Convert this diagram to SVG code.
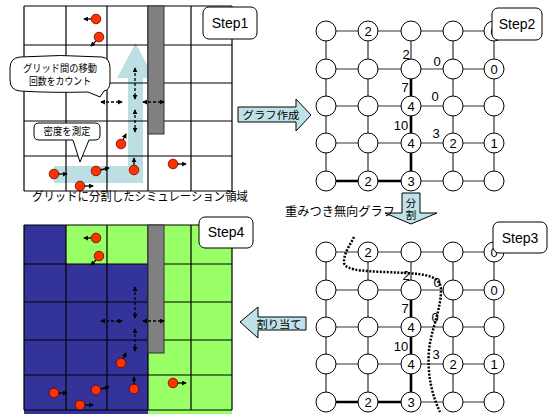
<svg xmlns="http://www.w3.org/2000/svg" width="548" height="414" viewBox="0 0 548 414">
<defs>
<marker id="ah" viewBox="0 0 6 6" refX="5" refY="3" markerWidth="5" markerHeight="5" markerUnits="userSpaceOnUse" orient="auto-start-reverse"><path d="M0,0 L6,3 L0,6 Z" fill="#000"/></marker>
<style>
.grid{stroke:#000;stroke-width:1.2;fill:none}
.bar{fill:#808080;stroke:#333;stroke-width:1}
.dot{fill:#ff3300;stroke:#660000;stroke-width:0.8}
.mv{stroke:#000;stroke-width:1.3;fill:none;marker-end:url(#ah)}
.dash{stroke:#000;stroke-width:1.3;stroke-dasharray:3,2;fill:none;marker-start:url(#ah);marker-end:url(#ah)}
.lbl{fill:#fff;stroke:#000;stroke-width:1}
.st{font-family:"Liberation Sans",Arial,sans-serif;font-size:14px;fill:#000;text-anchor:middle}
.jp{font-family:"Liberation Sans","Noto Sans CJK JP",sans-serif;font-size:10.5px;fill:#000;text-anchor:middle}
.jp2{font-family:"Liberation Sans","Noto Sans CJK JP",sans-serif;font-size:12px;fill:#000;text-anchor:middle}
.edge{stroke:#333;stroke-width:1.2}
.thick{stroke:#000;stroke-width:2.6}
.node{fill:#fff;stroke:#000;stroke-width:1}
.num{font-family:"Liberation Sans",Arial,sans-serif;font-size:13px;fill:#000;text-anchor:middle}
.big{fill:#bfe2e8;stroke:#000;stroke-width:1}
</style>
<g id="dots">
<path class="mv" d="M91,19 L84,19"/><circle class="dot" cx="96" cy="19" r="4.8"/>
<path class="mv" d="M96,41 L91,46"/><circle class="dot" cx="99" cy="37" r="4.8"/>
<path class="mv" d="M123,140 L126,134"/><circle class="dot" cx="121" cy="144" r="4.8"/>
<path class="mv" d="M177,164 L186,164"/><circle class="dot" cx="173" cy="164" r="4.8"/>
<path class="mv" d="M134,165 L134,158"/><circle class="dot" cx="134" cy="170" r="4.8"/>
<path class="mv" d="M100,170 L109,168"/><circle class="dot" cx="96" cy="171" r="4.8"/>
<path class="mv" d="M58,174 L67,174"/><circle class="dot" cx="54" cy="174" r="4.8"/>
<path class="mv" d="M84,186 L93,186"/><circle class="dot" cx="80" cy="186" r="4.8"/>
</g>
<g id="dashes">
<path class="dash" d="M101,102 L122,102"/>
<path class="dash" d="M143,102 L164,102"/>
<path class="dash" d="M135,68 L135,99"/>
<path class="dash" d="M135,110 L135,132"/>
</g>
<g id="gridlines">
<path class="grid" d="M24,6V191M66,6V191M107,6V191M148,6V191M191,6V191M232,6V191M24,6H232M24,45H232M24,83H232M24,121H232M24,156H232M24,191H232"/>
</g>
</defs>

<rect width="548" height="414" fill="#fff"/>

<!-- Step1 panel -->
<g id="step1">
<polygon points="54,166 128,166 128,78 117,78 135.5,43 154,78 143,78 143,183 54,183" fill="#bcdfe4"/>
<use href="#gridlines"/>
<rect class="bar" x="148" y="6" width="16" height="128"/>
<use href="#dashes"/>
<use href="#dots"/>
</g>

<g id="callout1">
<path class="lbl" d="M20,57 Q60,54 102,57 Q110,58 110,68 L110,82 Q110,90 104,91 L100,97 L88,92 Q50,93 20,91 Q10,90 10,80 L10,68 Q10,58 20,57 Z"/>
<text class="jp" x="60" y="72" textLength="74" lengthAdjust="spacingAndGlyphs">グリッド間の移動</text>
<text class="jp" x="60" y="85" textLength="62" lengthAdjust="spacingAndGlyphs">回数をカウント</text>
</g>

<g id="callout2">
<path class="lbl" d="M39,123 L95,123 Q100,123 100,128 L100,135 Q100,140 95,140 L89,140 L80,162 L73,140 L39,140 Q34,140 34,135 L34,128 Q34,123 39,123 Z"/>
<text class="jp" x="67" y="135" textLength="47" lengthAdjust="spacingAndGlyphs">密度を測定</text>
</g>

<g id="step1label">
<rect class="lbl" x="203" y="7" width="54" height="32" rx="6"/>
<text class="st" x="230" y="28">Step1</text>
</g>

<text class="jp2" x="140" y="201" textLength="216" lengthAdjust="spacingAndGlyphs" font-size="11.5">グリッドに分割したシミュレーション領域</text>

<!-- Step4 panel -->
<g id="step4" transform="translate(0,219)">
<rect x="24" y="6" width="208" height="189" fill="#99ff66"/>
<rect x="24" y="6" width="42" height="189" fill="#333399"/>
<rect x="66" y="45" width="82" height="150" fill="#333399"/>
<use href="#gridlines"/>
<rect class="bar" x="148" y="6" width="16" height="128"/>
<use href="#dashes"/>
<use href="#dots"/>
</g>
<g id="step4label">
<rect class="lbl" x="199" y="217" width="54" height="31" rx="6"/>
<text class="st" x="226" y="237">Step4</text>
</g>

<!-- big arrows -->
<g id="arrow-graph">
<polygon class="big" points="238,107 296,107 296,99 311,115 296,131 296,122 238,122"/>
<text class="jp" x="271" y="119" textLength="57" lengthAdjust="spacingAndGlyphs" font-size="11.5">グラフ作成</text>
</g>
<g id="arrow-assign">
<polygon class="big" points="306,317 258,317 258,307 240,322 258,338 258,330 306,330"/>
<text class="jp" x="279" y="328" textLength="45" lengthAdjust="spacingAndGlyphs" font-size="11.5">割り当て</text>
</g>
<g id="arrow-split">
<polygon class="big" points="402,193 420,193 420,213 437,213 411,224 385,213 402,213"/>
<text class="jp" x="411" y="207" font-size="11">分</text>
<text class="jp" x="411" y="219" font-size="11">割</text>
</g>
<text class="jp2" x="340" y="216" textLength="110" lengthAdjust="spacingAndGlyphs">重みつき無向グラフ</text>

<!-- graph template -->
<defs>
<g id="graph">
<g id="edges">
<path class="edge" d="M326,31H494M326,69H494M326,106H494M326,143H494M368,181H494M326,31V181M368,31V181M411,31V69M453,31V181M494,31V181"/>
<path class="thick" d="M411,69V181M326,181H411"/>
</g>
<g id="nodes">
<circle class="node" cx="326" cy="31" r="10"/><circle class="node" cx="368" cy="31" r="10"/><circle class="node" cx="411" cy="31" r="10"/><circle class="node" cx="453" cy="31" r="10"/><circle class="node" cx="494" cy="31" r="10"/>
<circle class="node" cx="326" cy="69" r="10"/><circle class="node" cx="368" cy="69" r="10"/><circle class="node" cx="411" cy="69" r="10"/><circle class="node" cx="453" cy="69" r="10"/><circle class="node" cx="494" cy="69" r="10"/>
<circle class="node" cx="326" cy="106" r="10"/><circle class="node" cx="368" cy="106" r="10"/><circle class="node" cx="411" cy="106" r="10"/><circle class="node" cx="453" cy="106" r="10"/><circle class="node" cx="494" cy="106" r="10"/>
<circle class="node" cx="326" cy="143" r="10"/><circle class="node" cx="368" cy="143" r="10"/><circle class="node" cx="411" cy="143" r="10"/><circle class="node" cx="453" cy="143" r="10"/><circle class="node" cx="494" cy="143" r="10"/>
<circle class="node" cx="326" cy="181" r="10"/><circle class="node" cx="368" cy="181" r="10"/><circle class="node" cx="411" cy="181" r="10"/><circle class="node" cx="453" cy="181" r="10"/><circle class="node" cx="494" cy="181" r="10"/>
</g>
<g id="labels">
<text class="num" x="368" y="36">2</text><text class="num" x="494" y="36">0</text>
<text class="num" x="494" y="74">0</text>
<text class="num" x="411" y="111">4</text>
<text class="num" x="411" y="148">4</text><text class="num" x="453" y="148">2</text><text class="num" x="494" y="148">1</text>
<text class="num" x="368" y="186">2</text><text class="num" x="411" y="186">3</text>
<text class="num" x="406" y="59">2</text><text class="num" x="437" y="66">0</text>
<text class="num" x="405" y="92">7</text><text class="num" x="435" y="101">0</text>
<text class="num" x="401" y="130">10</text><text class="num" x="436" y="138">3</text>
</g>
</g>
</defs>

<g id="step2">
<use href="#graph"/>
<rect class="lbl" x="492" y="8" width="50" height="32" rx="6"/>
<text class="st" x="517" y="29">Step2</text>
</g>

<g id="step3">
<use href="#graph" transform="translate(0,221)"/>
<path d="M354,237 C350,245 344,253 344,262 C344,272 370,271 405,273 C425,274 441,276 441,290 C441,310 431,330 429,350 C427,375 432,395 440,412" fill="none" stroke="#000" stroke-width="2.5" stroke-dasharray="2,1.5"/>
<rect class="lbl" x="493" y="222" width="54" height="31" rx="6"/>
<text class="st" x="520" y="243">Step3</text>
</g>
</svg>
